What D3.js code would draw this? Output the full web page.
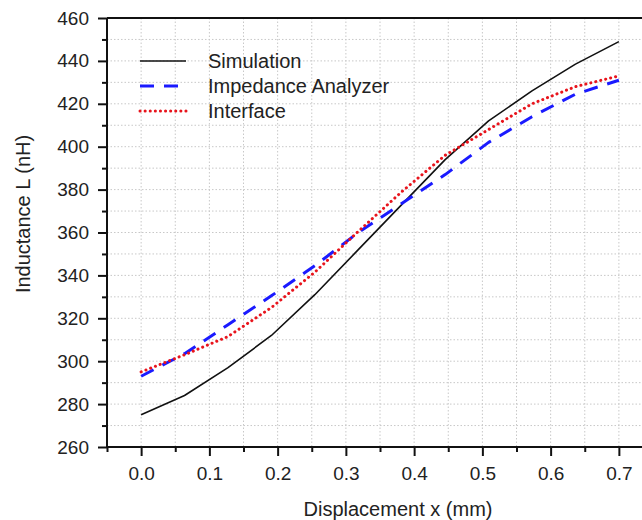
<!DOCTYPE html>
<html>
<head>
<meta charset="utf-8">
<script src="https://cdn.jsdelivr.net/npm/d3@7"></script>
<style>
  body { margin: 0; background: #fff; }
  text { font-family: "Liberation Sans", Arial, sans-serif; fill: #222; }
</style>
</head>
<body>
<div id="chart-area"></div>
<script>
// displacement samples (mm)
const displacement = [0, 0.0636, 0.1273, 0.1909, 0.2545, 0.3182, 0.3818, 0.4455, 0.5091, 0.5727, 0.6364, 0.7];
// inductance (nH)
const simulation = [275, 284, 297, 312, 331, 352, 373, 394, 412, 426, 438.5, 449];
const impedanceAnalyzer = [293, 303.5, 317, 330.5, 344.5, 360, 373.5, 387, 402, 414, 424.5, 431];
const interfaceData = [295, 303, 311.5, 325, 341.5, 360.5, 379, 396, 408, 420, 428, 433];

const xTicks = [0, 0.1, 0.2, 0.3, 0.4, 0.5, 0.6, 0.7];
const yTicks = [260, 280, 300, 320, 340, 360, 380, 400, 420, 440, 460];
const seriesNames = ["Simulation", "Impedance Analyzer", "Interface"];

const config = {
    width: 642,
    height: 520,
    margin: { left: 107, right: -11, top: 18, bottom: 73 }
};
config.chartWidth = config.width - config.margin.left - config.margin.right;
config.chartHeight = config.height - config.margin.top - config.margin.bottom;

const svg = d3.select('#chart-area')
    .append('svg')
    .attr('width', config.width)
    .attr('height', config.height);

const g = svg.append('g')
    .attr('transform', `translate(${config.margin.left}, ${config.margin.top})`);

const xScale = d3.scaleLinear()
    .domain([-0.05, 0.75])
    .range([0, config.chartWidth]);

const yScale = d3.scaleLinear()
    .domain([260, 460])
    .range([config.chartHeight, 0]);

// dotted grid at major and minor steps
const xGrid = d3.range(-0.05, 0.751, 0.05).map(d => +d.toFixed(2));
const yGrid = d3.range(260, 461, 10);

g.append('g').selectAll('line')
    .data(xGrid.filter(d => d > -0.05))
    .enter().append('line')
    .attr('x1', d => xScale(d)).attr('x2', d => xScale(d))
    .attr('y1', 0).attr('y2', config.chartHeight)
    .attr('stroke', '#c8c8c8')
    .attr('stroke-width', 1)
    .attr('stroke-dasharray', '1.5,2');

g.append('g').selectAll('line')
    .data(yGrid.filter(d => d > 260 && d < 460))
    .enter().append('line')
    .attr('x1', 0).attr('x2', config.chartWidth)
    .attr('y1', d => yScale(d)).attr('y2', d => yScale(d))
    .attr('stroke', '#c8c8c8')
    .attr('stroke-width', 1)
    .attr('stroke-dasharray', '1.5,2');

// minor ticks
const xMinor = d3.axisBottom(xScale)
    .tickValues(xGrid.filter(d => !xTicks.includes(d)))
    .tickSize(5).tickFormat('');
const yMinor = d3.axisLeft(yScale)
    .tickValues(yGrid.filter(d => !yTicks.includes(d)))
    .tickSize(5).tickFormat('');

g.append('g').attr('transform', `translate(0, ${config.chartHeight})`).call(xMinor);
g.append('g').call(yMinor);

const xAxisGroup = g.append('g')
    .attr('class', 'x axis')
    .attr('transform', `translate(0, ${config.chartHeight})`)
    .call(d3.axisBottom(xScale).tickValues(xTicks).tickSize(9).tickPadding(11).tickFormat(d3.format('.1f')));

const yAxisGroup = g.append('g')
    .attr('class', 'y axis')
    .call(d3.axisLeft(yScale).tickValues(yTicks).tickSize(9).tickPadding(9));

g.selectAll('.tick line').attr('stroke', '#111').attr('stroke-width', 2);
g.selectAll('.domain').remove();
g.selectAll('.tick text')
    .attr('font-size', '19px')
    .style('fill', '#222')
    .attr('font-family', '"Liberation Sans", Arial, sans-serif');

// frame: left, bottom, top
g.append('line').attr('x1', 0).attr('x2', 0).attr('y1', 0).attr('y2', config.chartHeight)
    .attr('stroke', '#111').attr('stroke-width', 2);
g.append('line').attr('x1', 0).attr('x2', config.chartWidth).attr('y1', config.chartHeight).attr('y2', config.chartHeight)
    .attr('stroke', '#111').attr('stroke-width', 2);
g.append('line').attr('x1', 0).attr('x2', config.chartWidth).attr('y1', 0).attr('y2', 0)
    .attr('stroke', '#111').attr('stroke-width', 2);

// series
const styles = [
    { data: simulation, color: '#111', width: 1.6, dash: null, cap: 'butt' },
    { data: impedanceAnalyzer, color: '#1a1aff', width: 3, dash: '14,10', cap: 'butt' },
    { data: interfaceData, color: '#e8141c', width: 3, dash: '0.1,5', cap: 'round' }
];

const line = d3.line()
    .x((d, i) => xScale(displacement[i]))
    .y(d => yScale(d));

styles.forEach(s => {
    g.append('path')
        .datum(s.data)
        .attr('fill', 'none')
        .attr('stroke', s.color)
        .attr('stroke-width', s.width)
        .attr('stroke-dasharray', s.dash)
        .attr('stroke-linecap', s.cap)
        .attr('stroke-linejoin', 'round')
        .attr('d', line);
});

// legend
const legend = svg.append('g').attr('transform', 'translate(139, 61)');
seriesNames.forEach((name, i) => {
    const row = legend.append('g').attr('transform', `translate(0, ${i * 25})`);
    row.append('line')
        .attr('x1', 1).attr('x2', 47)
        .attr('stroke', styles[i].color)
        .attr('stroke-width', styles[i].width)
        .attr('stroke-dasharray', styles[i].dash)
        .attr('stroke-linecap', styles[i].cap);
    row.append('text')
        .attr('x', 69).attr('y', 7)
        .attr('font-size', '20px')
        .text(name);
});

// axis titles
svg.append('text')
    .attr('x', 398)
    .attr('y', 516)
    .attr('text-anchor', 'middle')
    .attr('font-size', '20px')
    .text('Displacement x (mm)');

svg.append('text')
    .attr('transform', 'translate(30, 214) rotate(-90)')
    .attr('text-anchor', 'middle')
    .attr('font-size', '20px')
    .text('Inductance L (nH)');
</script>
</body>
</html>
